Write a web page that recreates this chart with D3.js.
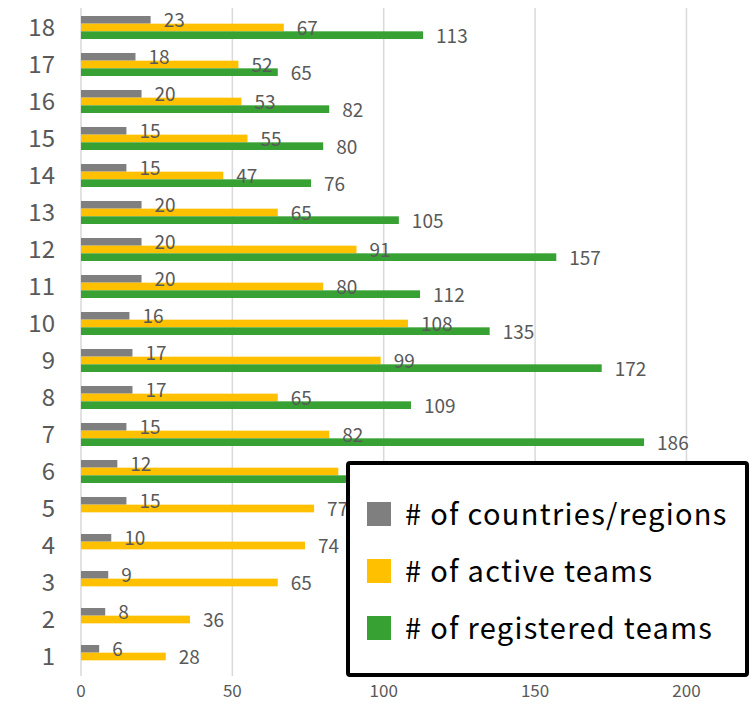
<!DOCTYPE html>
<html>
<head>
<meta charset="utf-8">
<script src="https://cdn.jsdelivr.net/npm/d3@7"></script>
<style>
  body { margin: 0; background: #fff; }
  text { font-family: "Noto Sans CJK JP", "Noto Sans", sans-serif; }
</style>
</head>
<body>
<div id="grafico"></div>
<script>
// categorias (1..18) e séries
var categories = ["1","2","3","4","5","6","7","8","9","10","11","12","13","14","15","16","17","18"];
var countries  = [6, 8, 9, 10, 15, 12, 15, 17, 17, 16, 20, 20, 20, 15, 15, 20, 18, 23];
var active     = [28, 36, 65, 74, 77, 85, 82, 65, 99, 108, 80, 91, 65, 47, 55, 53, 52, 67];
var registered = [null, null, null, null, null, 122, 186, 109, 172, 135, 112, 157, 105, 76, 80, 82, 65, 113];
var xTicks = [0, 50, 100, 150, 200];
var seriesNames = ["# of countries/regions", "# of active teams", "# of registered teams"];
var seriesColors = ["#7f7f7f", "#ffc000", "#37a133"];

var width = 754, height = 711;
var margin = {top: 9, right: 7, bottom: 36, left: 81};

var svg = d3.select("#grafico").append("svg")
  .attr("width", width).attr("height", height);

var xScale = d3.scaleLinear().domain([0, 220])
  .range([margin.left, width - margin.right]);

var yScale = d3.scaleBand().domain(categories.slice().reverse())
  .range([margin.top, height - margin.bottom])
  .paddingInner(0.378).paddingOuter(0.189);

var inner = d3.scaleBand().domain([0, 1, 2]).range([0, yScale.bandwidth()]);

// grid
svg.append("g").selectAll("line").data(xTicks).enter().append("line")
  .attr("x1", function(d){ return xScale(d); })
  .attr("x2", function(d){ return xScale(d); })
  .attr("y1", margin.top - 1)
  .attr("y2", height - margin.bottom + 1)
  .attr("stroke", "#d9d9d9").attr("stroke-width", 1.5);

// eixo x (só os rótulos)
svg.append("g").selectAll("text").data(xTicks).enter().append("text")
  .attr("x", function(d){ return xScale(d); })
  .attr("y", 689)
  .attr("text-anchor", "middle").attr("dominant-baseline", "central")
  .attr("font-size", "17px").attr("fill", "#595959")
  .text(function(d){ return d; });

// eixo y (categorias)
svg.append("g").selectAll("text").data(categories).enter().append("text")
  .attr("x", 55)
  .attr("y", function(d){ return yScale(d) + yScale.bandwidth() / 2 - 2; })
  .attr("text-anchor", "end").attr("dominant-baseline", "central")
  .attr("font-size", "24px").attr("fill", "#595959")
  .text(function(d){ return d; });

var series = [countries, active, registered];
var rows = [];
series.forEach(function(vals, s){
  vals.forEach(function(v, i){
    if (v !== null) rows.push({cat: categories[i], value: v, s: s});
  });
});

var plot = svg.append("g").attr("id", "plotarea");
plot.selectAll("rect.bar").data(rows).enter().append("rect")
  .attr("class", "bar")
  .attr("x", xScale(0))
  .attr("y", function(d){ return yScale(d.cat) + inner(d.s); })
  .attr("width", function(d){ return xScale(d.value) - xScale(0); })
  .attr("height", inner.bandwidth())
  .attr("fill", function(d){ return seriesColors[d.s]; });

plot.selectAll("text.lbl").data(rows).enter().append("text")
  .attr("class", "lbl")
  .attr("x", function(d){ return xScale(d.value) + 13; })
  .attr("y", function(d){ return yScale(d.cat) + inner(d.s) + inner.bandwidth() / 2 - 1; })
  .attr("dominant-baseline", "central")
  .attr("font-size", "19px").attr("fill", "#595959")
  .text(function(d){ return d.value; });

// legenda
var legend = svg.append("g");
legend.append("rect")
  .attr("x", 348).attr("y", 463).attr("width", 399).attr("height", 212)
  .attr("rx", 2)
  .attr("fill", "#fff").attr("stroke", "#000").attr("stroke-width", 4);

var items = legend.selectAll("g.item").data(seriesNames).enter().append("g")
  .attr("class", "item")
  .attr("transform", function(d, i){ return "translate(367," + (502 + i * 57) + ")"; });
items.append("rect")
  .attr("width", 24).attr("height", 24)
  .attr("fill", function(d, i){ return seriesColors[i]; });
items.append("text")
  .attr("x", 38).attr("y", 10)
  .attr("dominant-baseline", "central")
  .attr("font-size", "29px").attr("letter-spacing", "1.3px").attr("fill", "#000")
  .text(function(d){ return d; });
</script>
</body>
</html>
